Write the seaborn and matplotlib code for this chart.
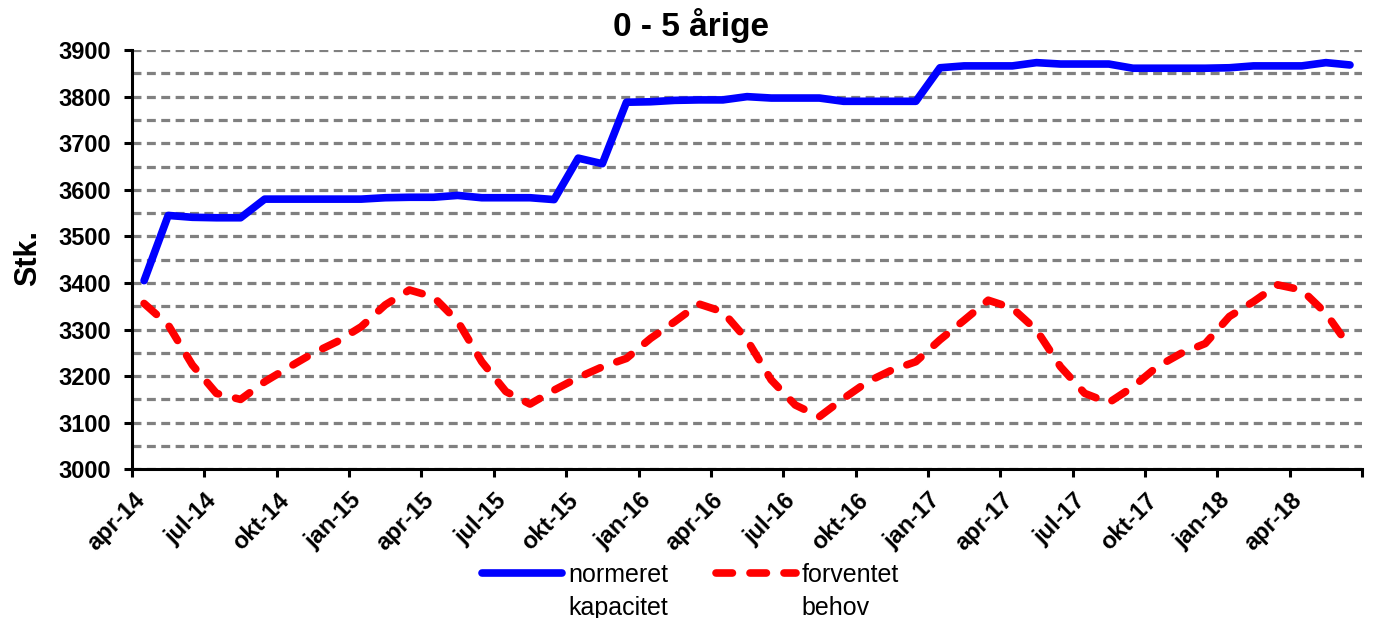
import matplotlib
matplotlib.use("Agg")
import matplotlib.pyplot as plt
import matplotlib.transforms as mtransforms
from matplotlib.ticker import MultipleLocator
import pandas as pd
import seaborn as sns

# Månedlige værdier apr-14 .. jun-18 (51 måneder)
kapacitet = [3405, 3545, 3541, 3540, 3540, 3580, 3580, 3580, 3580, 3580,
             3583, 3584, 3584, 3588, 3583, 3583, 3583, 3579, 3668, 3656,
             3788, 3789, 3792, 3793, 3793, 3800, 3797, 3797, 3797, 3790,
             3790, 3790, 3790, 3862, 3866, 3866, 3866, 3873, 3870, 3870,
             3870, 3861, 3861, 3861, 3861, 3862, 3866, 3866, 3866, 3873, 3868]
behov = [3356, 3310, 3224, 3163, 3150, 3188, 3219, 3249, 3274, 3306,
         3353, 3385, 3370, 3318, 3231, 3167, 3140, 3170, 3197, 3220,
         3238, 3281, 3317, 3355, 3338, 3278, 3192, 3138, 3113, 3152,
         3188, 3213, 3231, 3278, 3320, 3363, 3346, 3299, 3220, 3163,
         3143, 3177, 3220, 3249, 3270, 3328, 3360, 3396, 3385, 3335, 3262]
tick_labels = ["apr-14", "jul-14", "okt-14", "jan-15", "apr-15", "jul-15",
               "okt-15", "jan-16", "apr-16", "jul-16", "okt-16", "jan-17",
               "apr-17", "jul-17", "okt-17", "jan-18", "apr-18"]
y_ticks = list(range(3000, 3901, 100))

df = pd.DataFrame({"maaned": range(len(kapacitet)),
                   "kapacitet": kapacitet,
                   "behov": behov})

sns.set_style("white")
plt.rcParams['font.family'] = ['Liberation Sans', 'DejaVu Sans']
for k in ["text.color", "axes.labelcolor", "xtick.color", "ytick.color"]:
    plt.rcParams[k] = "black"

fig = plt.figure(figsize=(13.74, 6.18), dpi=100)
ax = fig.add_axes([0.0961, 0.2406, 0.8952, 0.6784])

sns.lineplot(data=df, x="maaned", y="kapacitet", ax=ax, color="#0000FF",
             lw=5.5, label="normeret", solid_capstyle="round")
sns.lineplot(data=df, x="maaned", y="behov", ax=ax, color="#FF0000",
             lw=5.5, linestyle=(0, (2.15, 2.3)), dash_capstyle="round",
             label="forventet")

# akser
n = len(kapacitet)
ax.set_xlim(-0.5, n - 0.5)
ax.set_ylim(3000, 3900)
ax.set_xticks([i - 0.5 for i in range(0, n + 1, 3)])
ax.set_xticklabels(tick_labels + [""], fontsize=17, fontweight="bold",
                   rotation=45, ha="right")
ax.set_yticks(y_ticks)
ax.set_yticklabels([str(v) for v in y_ticks], fontsize=17, fontweight="bold")
ax.yaxis.set_minor_locator(MultipleLocator(50))
ax.set_xlabel("")
ax.set_ylabel("Stk.", fontsize=22, fontweight="bold")
ax.yaxis.set_label_coords(-0.072, 0.504)

ax.tick_params(axis="both", which="major", direction="out", length=6,
               width=2.2, color="black", left=True, bottom=True)
ax.tick_params(axis="y", which="major", pad=9)
ax.tick_params(axis="x", which="major", pad=8)
ax.tick_params(axis="y", which="minor", length=0)

offset = mtransforms.ScaledTranslation(0.17, 0, fig.dpi_scale_trans)
for lbl in ax.get_xticklabels():
    lbl.set_transform(lbl.get_transform() + offset)

ax.grid(axis="y", which="both", color="#808080",
        linestyle=(0, (2.8, 1.7)), lw=2.3)
ax.set_axisbelow(True)
sns.despine(ax=ax)
for s in ["left", "bottom"]:
    ax.spines[s].set_linewidth(2.2)
    ax.spines[s].set_color("black")

fig.suptitle("0 - 5 årige", x=0.503, y=0.958, va="center",
             fontsize=24, fontweight="bold")

leg = ax.legend(loc="center", bbox_to_anchor=(0.5025, 0.0696),
                bbox_transform=fig.transFigure, ncol=2, frameon=False,
                prop={"family": "Liberation Sans", "size": 18},
                handlelength=3.2, handletextpad=0.25, columnspacing=1.9,
                borderpad=0, borderaxespad=0)

# anden linje af legendeteksten
fig.canvas.draw()
W, H = fig.bbox.width, fig.bbox.height
for t, extra in zip(leg.get_texts(), ["kapacitet", "behov"]):
    bb = t.get_window_extent()
    fig.text(bb.x0 / W, (bb.y0 - 9) / H, extra, ha="left", va="top",
             fontsize=18, family="Liberation Sans")

fig.savefig("out.png", dpi=100)
